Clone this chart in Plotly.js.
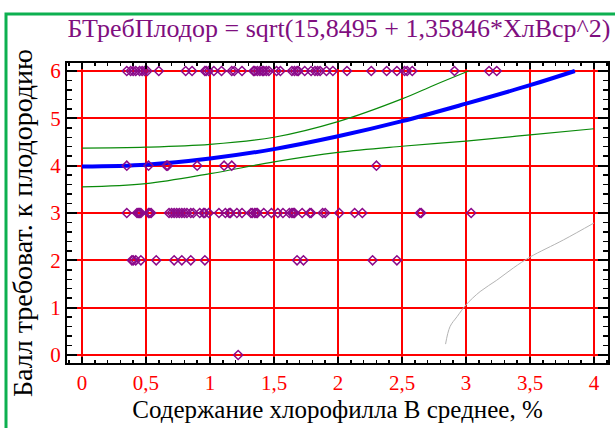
<!DOCTYPE html>
<html>
<head>
<meta charset="utf-8">
<script src="https://cdn.plot.ly/plotly-3.0.1.min.js"></script>
<style>
  html, body { margin: 0; padding: 0; background: #ffffff; }
  #chart { width: 615px; height: 428px; }
</style>
</head>
<body>
<div id="chart"></div>
<script>
// Observed points, grouped by score level (x = chlorophyll B average, %)
const xAtScore6 = [0.35,0.38,0.40,0.42,0.45,0.47,0.49,0.51,0.60,0.81,0.86,0.96,0.97,0.99,1.03,1.09,1.17,1.19,1.25,1.34,1.35,1.37,1.39,1.41,1.42,1.44,1.46,1.52,1.55,1.64,1.66,1.68,1.69,1.74,1.79,1.82,1.84,1.86,1.91,1.96,2.07,2.26,2.38,2.46,2.52,2.54,2.58,2.91,3.18,3.24];
const xAtScore4 = [0.35,0.52,0.66,0.67,0.90,1.11,1.17,2.30];
const xAtScore3 = [0.35,0.43,0.44,0.45,0.46,0.52,0.53,0.54,0.68,0.70,0.72,0.74,0.76,0.78,0.80,0.82,0.85,0.87,0.92,0.95,0.96,0.99,1.07,1.12,1.15,1.16,1.21,1.25,1.32,1.33,1.35,1.36,1.37,1.42,1.48,1.53,1.57,1.62,1.64,1.65,1.66,1.72,1.78,1.79,1.88,1.90,2.01,2.13,2.19,2.64,2.65,3.04];
const xAtScore2 = [0.39,0.40,0.42,0.46,0.58,0.72,0.78,0.85,0.96,1.68,1.73,2.27,2.46];
const xAtScore0 = [1.22];
const scoreLevels = [6, 4, 3, 2, 0];

// Fitted model curve
const fitX = [0, 0.5, 1, 1.5, 2, 2.5, 3, 3.5, 3.85];
const fitY = [3.98, 4.02, 4.15, 4.35, 4.62, 4.94, 5.31, 5.70, 6.0];
// Confidence limits
const upperX = [0, 0.5, 1, 1.5, 2, 2.5, 2.75, 3.02];
const upperY = [4.37, 4.39, 4.45, 4.60, 4.93, 5.41, 5.70, 6.0];
const lowerX = [0, 0.5, 1, 1.5, 2, 2.5, 3, 3.5, 4];
const lowerY = [3.55, 3.62, 3.83, 4.08, 4.28, 4.41, 4.52, 4.65, 4.78];
// Prediction lower limit (grey)
const grayX = [2.84, 2.875, 2.93, 3.0, 3.11, 3.24, 3.37, 3.5, 3.76, 4.0];
const grayY = [0.23, 0.60, 0.81, 1.06, 1.34, 1.58, 1.84, 2.07, 2.43, 2.79];

const titleText = 'БТребПлодор = sqrt(15,8495 + 1,35846*ХлВср^2)';
const xTitle = 'Содержание хлорофилла В среднее, %';
const yTitle = 'Балл требоват. к плодородию';

const groups = [xAtScore6, xAtScore4, xAtScore3, xAtScore2, xAtScore0];
const ptsX = [], ptsY = [];
groups.forEach((g, i) => g.forEach(v => { ptsX.push(v); ptsY.push(scoreLevels[i]); }));

const serif = 'Liberation Serif, Times New Roman, serif';

const traces = [
  { x: grayX, y: grayY, mode: 'lines', line: { color: '#b4b4b4', width: 1, shape: 'spline' }, hoverinfo: 'skip' },
  { x: upperX, y: upperY, mode: 'lines', line: { color: '#0a8a0a', width: 1.2, shape: 'spline' }, hoverinfo: 'skip' },
  { x: lowerX, y: lowerY, mode: 'lines', line: { color: '#0a8a0a', width: 1.2, shape: 'spline' }, hoverinfo: 'skip' },
  { x: fitX, y: fitY, mode: 'lines', line: { color: '#0000ff', width: 4, shape: 'spline' }, hoverinfo: 'skip' },
  { x: ptsX, y: ptsY, mode: 'markers',
    marker: { symbol: 'diamond-open', size: 7, color: '#8b0a8b', line: { width: 1.5, color: '#8b0a8b' } } }
];

const L = 67, R = 608, T = 63, B = 363, W = 615, H = 428;
const px = v => (v - L) / (R - L);
const py = v => (B - v) / (B - T);

const layout = {
  width: W, height: H,
  margin: { l: L, r: W - R, t: T, b: H - B, pad: 0 },
  paper_bgcolor: '#ffffff', plot_bgcolor: '#ffffff',
  showlegend: false,
  separators: ', ',
  font: { family: serif, color: '#000000' },
  title: { text: titleText, font: { family: serif, size: 26, color: '#7f0f7f' },
           xref: 'paper', x: px(339), xanchor: 'center', yref: 'container', y: 1 - 28 / H, yanchor: 'middle' },
  xaxis: {
    range: [-0.117, 4.109], dtick: 0.5, tick0: 0,
    showgrid: true, gridcolor: '#ff0000', gridwidth: 2, zeroline: false,
    showline: true, linecolor: '#000000', linewidth: 2, mirror: 'ticks',
    ticks: 'inside', ticklen: 6, tickwidth: 2, tickcolor: '#000000',
    minor: { dtick: 0.1, ticks: 'inside', ticklen: 3, tickwidth: 1.5, tickcolor: '#000000', showgrid: false },
    tickfont: { family: serif, size: 21, color: '#ff0000' },
    title: { text: xTitle, font: { family: serif, size: 25, color: '#000000' }, standoff: 6 }
  },
  yaxis: {
    range: [-0.169, 6.169], dtick: 1, tick0: 0,
    showgrid: true, gridcolor: '#ff0000', gridwidth: 2, zeroline: false,
    showline: true, linecolor: '#000000', linewidth: 2, mirror: 'ticks',
    ticks: 'inside', ticklen: 10, tickwidth: 2, tickcolor: '#000000',
    minor: { dtick: 0.2, ticks: 'inside', ticklen: 5, tickwidth: 1.5, tickcolor: '#000000', showgrid: false },
    tickfont: { family: serif, size: 21, color: '#ff0000' }
  },
  annotations: [
    { text: yTitle, xref: 'paper', yref: 'paper', x: px(22), y: py(223), xanchor: 'center', yanchor: 'middle',
      textangle: -90, showarrow: false, font: { family: serif, size: 28, color: '#000000' } }
  ],
  shapes: [
    { type: 'rect', xref: 'paper', yref: 'paper', x0: px(6), x1: px(640), y0: py(460), y1: py(14),
      line: { color: '#0db050', width: 3 }, fillcolor: 'rgba(0,0,0,0)', layer: 'above' }
  ]
};

Plotly.newPlot('chart', traces, layout, { displayModeBar: false, staticPlot: true });
</script>
</body>
</html>
